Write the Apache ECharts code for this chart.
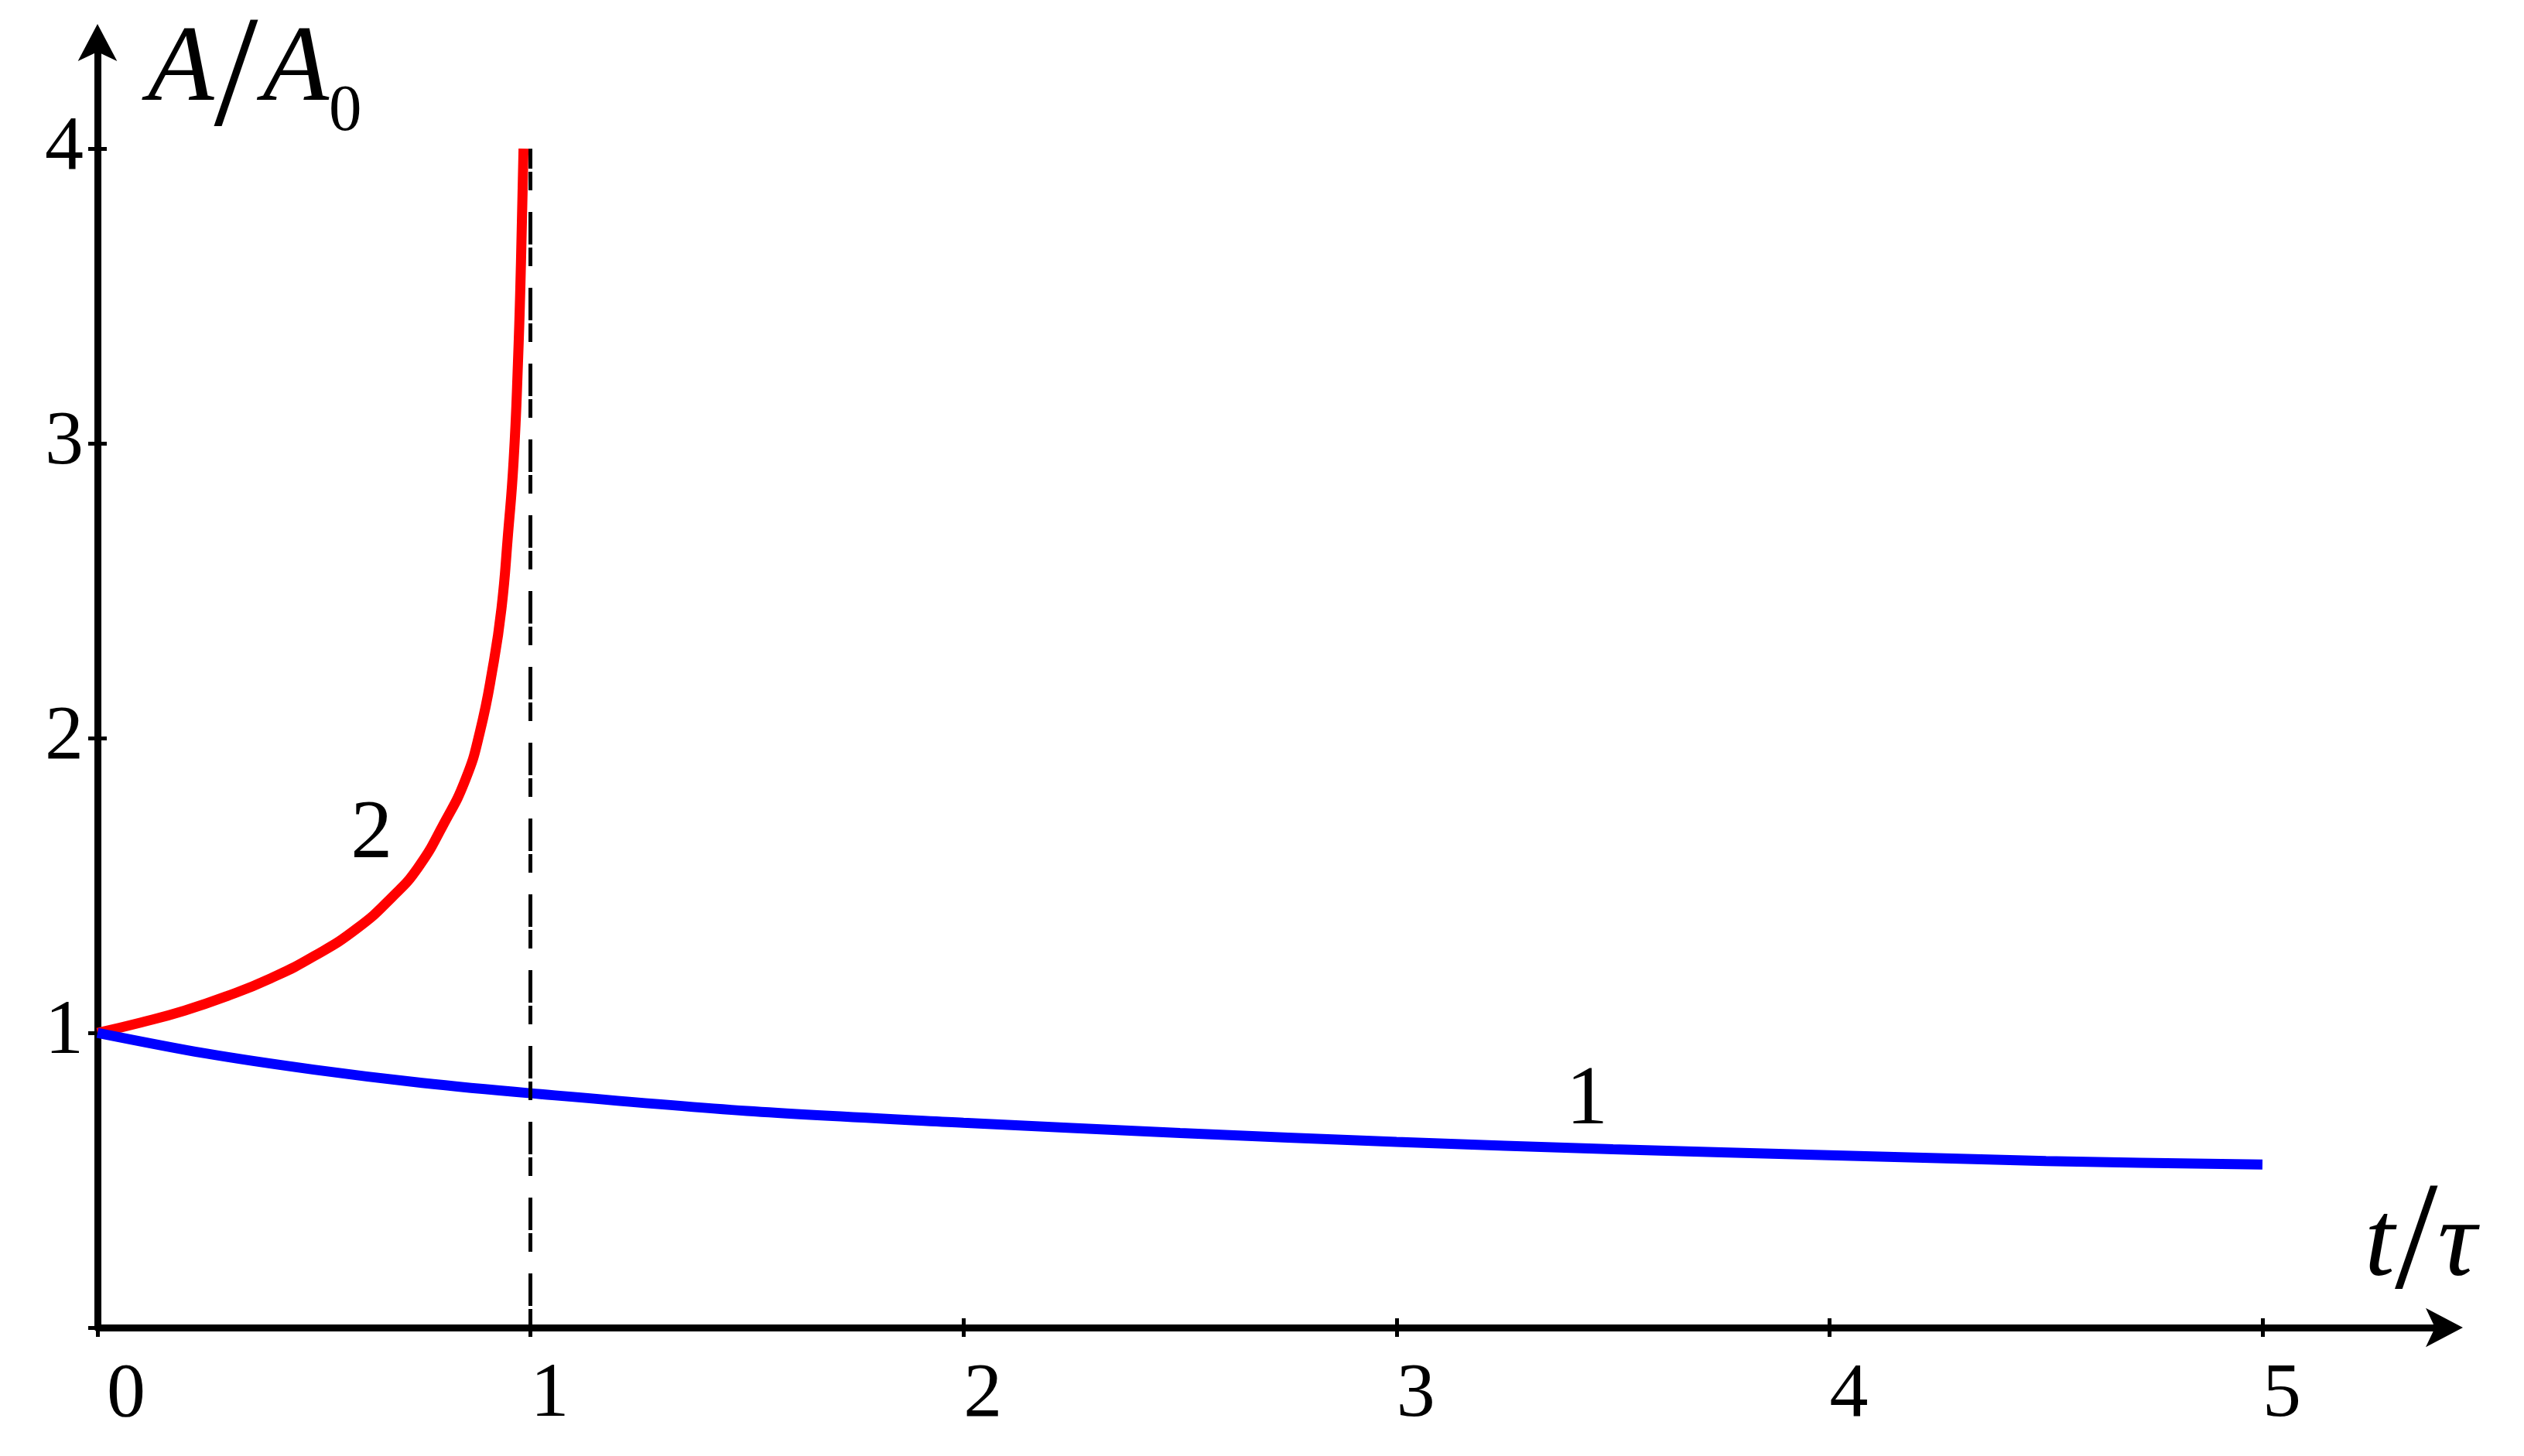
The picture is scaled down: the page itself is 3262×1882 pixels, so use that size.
<!DOCTYPE html>
<html>
<head>
<meta charset="utf-8">
<title>A/A0 – t/τ</title>
<script src="https://cdn.jsdelivr.net/npm/echarts@6/dist/echarts.min.js"></script>
<style>
  html, body { margin: 0; padding: 0; background: #fff; }
  #chart { width: 3262px; height: 1882px; }
</style>
</head>
<body>
<div id="chart"></div>
<script>
// curve 1 (blue), decays slowly
var t1 = [0, 0.25, 0.5, 0.75, 1, 1.5, 2, 2.5, 3, 3.5, 4, 4.5, 5];
var a1 = [1.0, 0.93, 0.875, 0.83, 0.795, 0.735, 0.695, 0.66, 0.63, 0.605, 0.585, 0.565, 0.553];

// curve 2 (red), blows up at t/τ = 1
var t2 = [0, 0.1, 0.2, 0.3, 0.4, 0.5, 0.6, 0.68, 0.74, 0.8, 0.85, 0.883, 0.913, 0.933, 0.948, 0.961, 0.971, 0.978, 0.984];
var a2 = [1.0, 1.035, 1.075, 1.125, 1.185, 1.26, 1.355, 1.46, 1.56, 1.71, 1.86, 2.02, 2.24, 2.44, 2.69, 2.94, 3.27, 3.61, 4.0];

var xTicks = [0, 1, 2, 3, 4, 5];
var yTicks = [0, 1, 2, 3, 4];
var yLabels = [1, 2, 3, 4];
var asymptote = [1, 4];        // t/τ, top of the line
var curveNames = ['1', '2'];
var nameAt1 = [3.44, 0.768];
var nameAt2 = [0.633, 1.671];
var xMax = 5.42, yMax = 4.36;

var serif = '"Liberation Serif", "Times New Roman", serif';

function pairs(xs, ys) {
    return xs.map(function (x, i) { return [x, ys[i]]; });
}

function curveLabel(at, text) {
    return {
        symbol: 'circle',
        symbolSize: 0,
        silent: true,
        label: {
            show: true,
            position: 'inside',
            formatter: text,
            color: '#000',
            fontFamily: serif,
            fontSize: 108
        },
        data: [{ coord: at }]
    };
}

var chart = echarts.init(document.getElementById('chart'));

var axisLineStyle = { color: '#000', width: 9 };
var tickStyle = { color: '#000', width: 5 };

chart.setOption({
    animation: false,
    backgroundColor: '#fff',
    grid: { left: 126, right: 103, top: 55, bottom: 166, containLabel: false, outerBoundsMode: 'none' },
    xAxis: [
        {
            type: 'value',
            min: 0,
            max: xMax,
            splitLine: { show: false },
            axisLine: { show: true, lineStyle: axisLineStyle, symbol: ['none', 'arrow'], symbolSize: [38, 48], symbolOffset: [0, 24] },
            axisTick: { show: true, length: 12, lineStyle: tickStyle, customValues: xTicks },
            axisLabel: {
                color: '#000', fontFamily: serif, fontSize: 100, margin: 38, align: 'left',
                customValues: xTicks,
                formatter: function (v) { return v === 0 ? '{z|0}' : String(v); },
                rich: { z: { fontFamily: serif, fontSize: 100, padding: [0, 0, 0, 12] } }
            },
            name: '{i|t}{s|/}{i|τ}',
            nameLocation: 'end',
            nameGap: -103,
            nameMoveOverlap: false,
            nameTextStyle: {
                align: 'left',
                verticalAlign: 'bottom',
                rich: {
                    i: { fontFamily: serif, fontStyle: 'italic', fontSize: 140, lineHeight: 140, color: '#000' },
                    s: { fontFamily: serif, fontSize: 200, lineHeight: 210, color: '#000' }
                }
            }
        },
        {
            type: 'value',
            min: 0,
            max: xMax,
            position: 'bottom',
            splitLine: { show: false },
            axisLine: { show: false },
            axisLabel: { show: false },
            axisTick: { show: true, inside: true, length: 12, lineStyle: tickStyle, customValues: xTicks }
        }
    ],
    yAxis: [
        {
            type: 'value',
            min: 0,
            max: yMax,
            splitLine: { show: false },
            axisLine: { show: true, lineStyle: axisLineStyle, symbol: ['none', 'arrow'], symbolSize: [38, 48], symbolOffset: [0, 24] },
            axisTick: { show: true, length: 12, lineStyle: tickStyle, customValues: yTicks },
            axisLabel: { color: '#000', fontFamily: serif, fontSize: 100, margin: 18, customValues: yLabels },
            name: '{a|A}{s|/}{a|A}{b|0}',
            nameLocation: 'end',
            nameGap: -37,
            nameMoveOverlap: false,
            nameTextStyle: {
                align: 'left',
                verticalAlign: 'middle',
                padding: [0, 0, 0, 65],
                rich: {
                    a: { fontFamily: serif, fontStyle: 'italic', fontSize: 140, lineHeight: 140, color: '#000' },
                    s: { fontFamily: serif, fontSize: 205, lineHeight: 150, padding: [30, 6, 0, 0], color: '#000' },
                    b: { fontFamily: serif, fontSize: 85, lineHeight: 85, padding: [108, 0, 0, 0], color: '#000' }
                }
            }
        },
        {
            type: 'value',
            min: 0,
            max: yMax,
            position: 'left',
            splitLine: { show: false },
            axisLine: { show: false },
            axisLabel: { show: false },
            axisTick: { show: true, inside: true, length: 12, lineStyle: tickStyle, customValues: yTicks }
        }
    ],
    series: [
        {
            name: curveNames[1],
            type: 'line',
            data: pairs(t2, a2),
            showSymbol: false,
            smooth: 0.5,
            lineStyle: { color: '#ff0000', width: 13 },
            markPoint: curveLabel(nameAt2, curveNames[1]),
            markLine: {
                silent: true,
                symbol: ['none', 'none'],
                label: { show: false },
                lineStyle: { color: '#000', width: 5, type: [24, 4, 42, 28] },
                data: [[{ coord: [asymptote[0], 0] }, { coord: [asymptote[0], asymptote[1]] }]]
            }
        },
        {
            name: curveNames[0],
            type: 'line',
            data: pairs(t1, a1),
            showSymbol: false,
            smooth: 0.3,
            lineStyle: { color: '#0000ff', width: 13 },
            markPoint: curveLabel(nameAt1, curveNames[0])
        }
    ]
});
</script>
</body>
</html>
